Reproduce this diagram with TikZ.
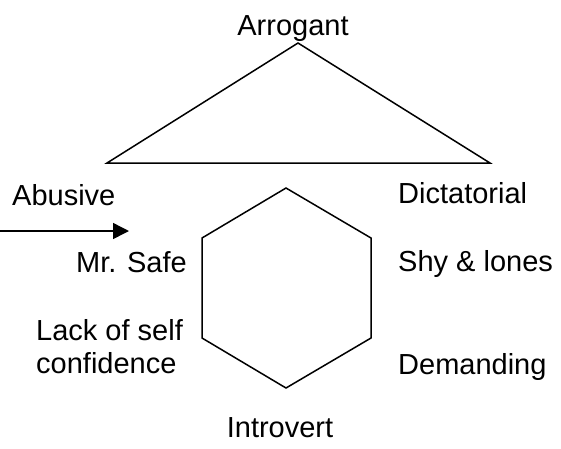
\documentclass[tikz,border=0pt]{standalone}
\usepackage{fontspec}
\setmainfont{Liberation Sans}
\usetikzlibrary{positioning}
\usetikzlibrary{arrows.meta}

\begin{document}
\begin{tikzpicture}[
    x=1pt, y=-1pt,
    shape line/.style={draw=black, line width=1.5pt, line join=miter},
    word/.style={inner sep=0pt, font=\fontsize{29}{33}\selectfont},
  ]

  \useasboundingbox (0,0) rectangle (561,448);

  % triangle
  \coordinate (TOP) at (298, 43);
  \coordinate (BL) at (107, 163);
  \coordinate (BR) at (490, 163);

  % hexagon
  \coordinate (H1) at (286, 188);
  \coordinate (H2) at (202, 238);
  \coordinate (H3) at (202, 338);
  \coordinate (H4) at (286, 388);
  \coordinate (H5) at (371, 338);
  \coordinate (H6) at (371, 238);

  \coordinate (START) at (0, 231);
  \coordinate (END) at (129, 231);

  \node [word, anchor=base] (ARR) at (293, 35) {Arrogant};
  \node [word, anchor=base west] (ABU) at (12, 205) {Abusive};
  \node [word, anchor=base west] (DIC) at (398, 203) {Dictatorial};
  \node [word, anchor=base east] (SAFE) at (187, 272) {Mr. Safe};
  \node [word, anchor=base west] (SHY) at (398, 271) {Shy \& lones};
  \node [word, anchor=base west, align=left] (LACK) at (36, 373) {Lack of self\\confidence};
  \node [word, anchor=base west] (DEM) at (398, 374) {Demanding};
  \node [word, anchor=base] (INT) at (280, 437) {Introvert};

  \draw [shape line] (TOP) -- (BL) -- (BR) -- cycle;
  \draw [shape line] (H1) -- (H2) -- (H3) -- (H4) -- (H5) -- (H6) -- cycle;
  \draw [line width=1.5pt, -{Triangle[length=16pt, width=16pt]}] (START) -- (END);

\end{tikzpicture}
\end{document}
